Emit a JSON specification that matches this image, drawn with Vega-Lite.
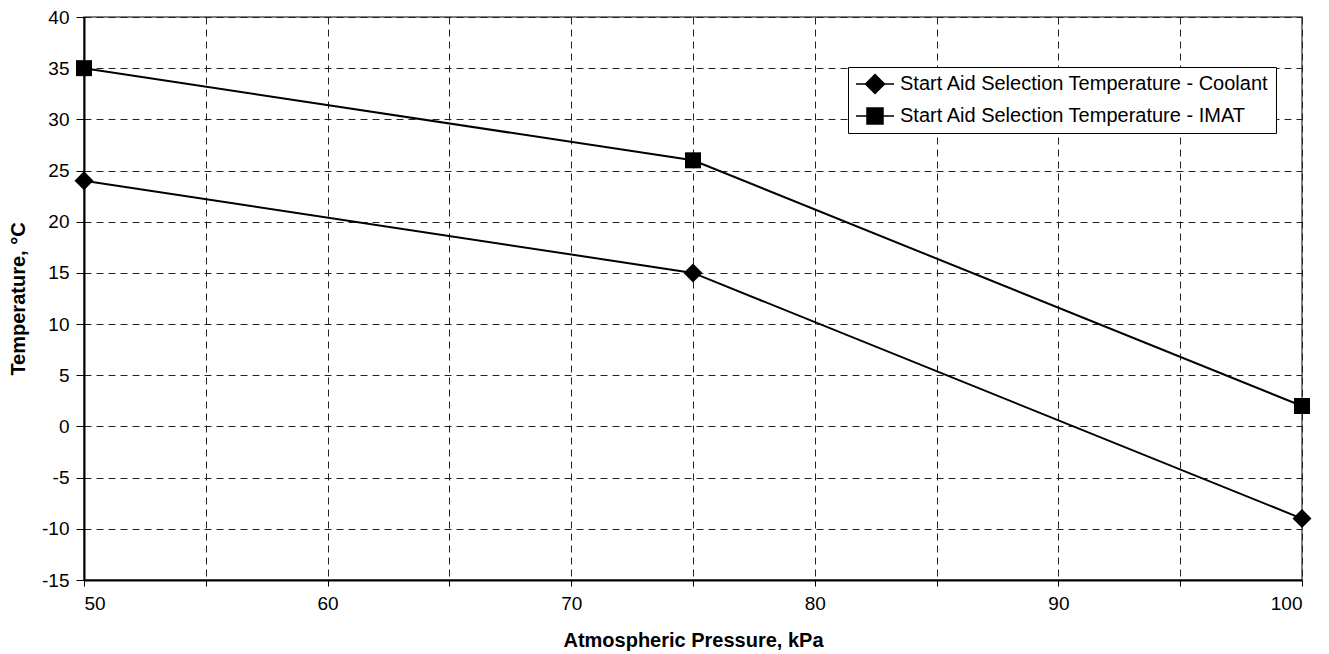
{
  "$schema": "https://vega.github.io/schema/vega-lite/v6.json",
  "width": 1218,
  "height": 563,
  "autosize": {"type": "none"},
  "padding": {"left": 84, "top": 17, "right": 27, "bottom": 74},
  "background": "white",
  "config": {
    "font": "Liberation Sans",
    "view": {"stroke": "#555", "strokeWidth": 1.5},
    "axis": {
      "labelFont": "Liberation Sans",
      "titleFont": "Liberation Sans",
      "labelColor": "black",
      "titleColor": "black",
      "labelFontSize": 19,
      "titleFontSize": 20,
      "titleFontWeight": "bold",
      "domainColor": "black",
      "domainWidth": 2,
      "tickColor": "black",
      "gridColor": "#222",
      "gridDash": [7, 5],
      "gridWidth": 1
    }
  },
  "data": {
    "values": [
      {"pressure": 50, "temp": 24, "series": "Start Aid Selection Temperature - Coolant"},
      {"pressure": 75, "temp": 15, "series": "Start Aid Selection Temperature - Coolant"},
      {"pressure": 100, "temp": -9, "series": "Start Aid Selection Temperature - Coolant"},
      {"pressure": 50, "temp": 35, "series": "Start Aid Selection Temperature - IMAT"},
      {"pressure": 75, "temp": 26, "series": "Start Aid Selection Temperature - IMAT"},
      {"pressure": 100, "temp": 2, "series": "Start Aid Selection Temperature - IMAT"}
    ]
  },
  "encoding": {
    "x": {
      "field": "pressure",
      "type": "quantitative",
      "scale": {"domain": [50, 100], "nice": false, "zero": false},
      "axis": {
        "title": "Atmospheric Pressure, kPa",
        "values": [50, 55, 60, 65, 70, 75, 80, 85, 90, 95, 100],
        "labelExpr": "datum.value % 10 === 0 ? '' + datum.value : ''",
        "tickSize": 6,
        "labelPadding": 8,
        "titlePadding": 17,
        "grid": true
      }
    },
    "y": {
      "field": "temp",
      "type": "quantitative",
      "scale": {"domain": [-15, 40], "nice": false, "zero": false},
      "axis": {
        "title": "Temperature, °C",
        "values": [-15, -10, -5, 0, 5, 10, 15, 20, 25, 30, 35, 40],
        "labelExpr": "'' + datum.value",
        "tickSize": 8,
        "labelPadding": 7,
        "titlePadding": 13,
        "grid": true
      }
    }
  },
  "layer": [
    {
      "mark": {"type": "line", "color": "black", "strokeWidth": 2},
      "encoding": {"detail": {"field": "series"}}
    },
    {
      "mark": {"type": "point", "filled": true, "color": "black", "opacity": 1},
      "encoding": {
        "detail": {"field": "series"},
        "shape": {
          "condition": {"test": "datum.series === 'Start Aid Selection Temperature - Coolant'", "value": "diamond"},
          "value": "square"
        },
        "size": {
          "condition": {"test": "datum.series === 'Start Aid Selection Temperature - Coolant'", "value": 360},
          "value": 256
        }
      }
    },
    {
      "transform": [{"filter": "datum.pressure > 1000"}],
      "mark": {"type": "point", "filled": true, "color": "black", "opacity": 1, "strokeWidth": 1.5},
      "encoding": {
        "shape": {
          "field": "series",
          "type": "nominal",
          "scale": {
            "domain": ["Start Aid Selection Temperature - Coolant", "Start Aid Selection Temperature - IMAT"],
            "range": [
              "M-1.9,0L1.9,0M0,-0.95L0.95,0L0,0.95L-0.95,0Z",
              "M-1.9,0L1.9,0M-0.8,-0.8L0.8,-0.8L0.8,0.8L-0.8,0.8Z"
            ]
          },
          "legend": {
            "title": null,
            "orient": "none",
            "legendX": 764,
            "legendY": 50,
            "fillColor": "white",
            "strokeColor": "black",
            "padding": 6,
            "labelFontSize": 20,
            "labelFont": "Liberation Sans",
            "labelColor": "black",
            "labelLimit": 0,
            "symbolSize": 400,
            "symbolOffset": 10,
            "symbolFillColor": "black",
            "symbolStrokeColor": "black",
            "symbolStrokeWidth": 1.5,
            "rowPadding": 8,
            "labelOffset": 14,
            "encode": {
              "symbols": {
                "update": {
                  "stroke": {"value": "black"},
                  "strokeWidth": {"value": 1.5},
                  "fill": {"value": "black"}
                }
              }
            }
          }
        },
        "stroke": {
          "field": "series",
          "type": "nominal",
          "scale": {
            "domain": ["Start Aid Selection Temperature - Coolant", "Start Aid Selection Temperature - IMAT"],
            "range": ["black", "black"]
          }
        }
      }
    }
  ]
}
